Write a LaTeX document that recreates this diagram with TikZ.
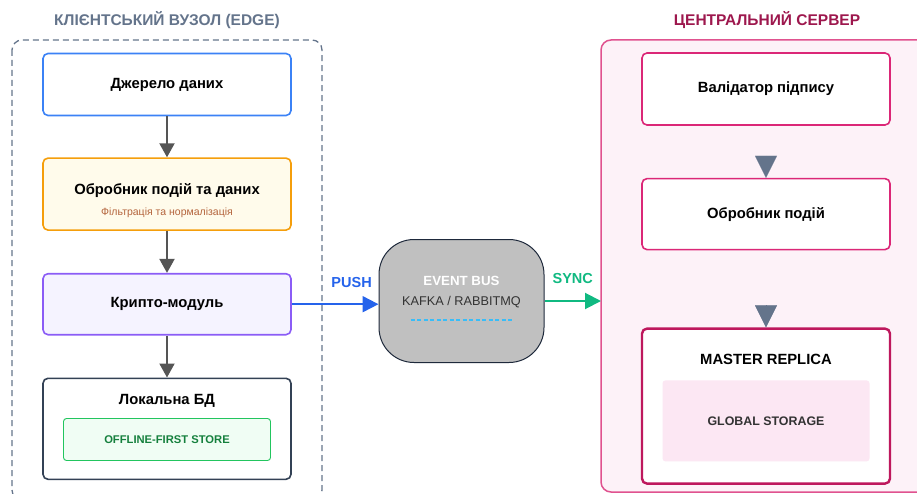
\documentclass[tikz,border=0pt]{standalone}
\usepackage{fontspec}
\setmainfont{Liberation Sans}
\usetikzlibrary{positioning, arrows.meta}
\definecolor{slate}{HTML}{64748B}
\definecolor{darkslate}{HTML}{334155}
\definecolor{flowgray}{HTML}{555555}
\definecolor{srcblue}{HTML}{3B82F6}
\definecolor{pushblue}{HTML}{2563EB}
\definecolor{procamber}{HTML}{F59E0B}
\definecolor{procfill}{HTML}{FFFBEB}
\definecolor{procnote}{HTML}{B4643C}
\definecolor{cryptoviolet}{HTML}{8B5CF6}
\definecolor{cryptofill}{HTML}{F5F3FF}
\definecolor{storegreen}{HTML}{22C55E}
\definecolor{storefill}{HTML}{F0FDF4}
\definecolor{storetext}{HTML}{15803D}
\definecolor{syncgreen}{HTML}{10B981}
\definecolor{busgray}{HTML}{C0C0C0}
\definecolor{busline}{HTML}{1E293B}
\definecolor{busdash}{HTML}{38BDF8}
\definecolor{srvtitle}{HTML}{9D174D}
\definecolor{srvpink}{HTML}{DB2777}
\definecolor{srvframe}{HTML}{E0528F}
\definecolor{srvfill}{HTML}{FDF2F8}
\definecolor{masterred}{HTML}{BE185D}
\definecolor{globalfill}{HTML}{FCE7F3}

\begin{document}
\begin{tikzpicture}[x=1pt, y=-1pt,
    every node/.style={inner sep=0pt},
    zonetitle/.style={font=\fontsize{15.5}{18}\selectfont\bfseries},
    box/.style={draw, fill=white, rounded corners=5pt, line width=1.6pt,
      minimum width=248pt, font=\fontsize{14.8}{17}\selectfont\bfseries},
    boxtext/.style={font=\fontsize{14.8}{17}\selectfont\bfseries},
    flow/.style={draw=flowgray, line width=2pt, -{Triangle[width=15pt,length=14pt]}},
    tri/.style={draw=slate, line width=0.1pt, shorten <=30pt,
      -{Triangle[width=22pt,length=22pt]}},
    link/.style={line width=2pt, -{Triangle[width=16pt,length=16pt]}},
    linklabel/.style={font=\fontsize{14.5}{17}\selectfont\bfseries}]
      \useasboundingbox (0,0) rectangle (917,494);
      \clip (0,0) rectangle (917,494);

      \draw[slate, line width=1.3pt, dash pattern=on 6pt off 4pt, rounded corners=10pt]
        (12,40) rectangle (322,500);
      \node[zonetitle, text=slate] (edgetitle) at (167,20) {КЛІЄНТСЬКИЙ ВУЗОЛ (EDGE)};

      \draw[srvframe, fill=srvfill, line width=1.5pt, rounded corners=10pt]
        (601,40) rectangle (940,492);
      \node[zonetitle, text=srvtitle] (srvtitle) at (767,20) {ЦЕНТРАЛЬНИЙ СЕРВЕР};

      \node[box, draw=srcblue, minimum height=62pt] (source) at (167,84.5) {Джерело даних};
      \node[box, draw=procamber, fill=procfill, minimum height=72pt, below=41pt of source] (proc) {};
      \node[boxtext] (proctitle) at ([yshift=-33pt]proc.north) {Обробник подій та даних};
      \node[font=\fontsize{10.5}{12}\selectfont, text=procnote] (procnote) at ([yshift=-55pt]proc.north)
        {Фільтрація та нормалізація};
      \node[box, draw=cryptoviolet, fill=cryptofill, minimum height=61pt, below=42pt of proc] (crypto) {Крипто-модуль};
      \node[box, draw=darkslate, minimum height=101pt, below=42pt of crypto] (localdb) {};
      \node[boxtext] (dbtitle) at ([yshift=-23pt]localdb.north) {Локальна БД};
      \node[draw=storegreen, fill=storefill, line width=0.9pt, rounded corners=3pt,
        minimum width=207pt, minimum height=42pt, text=storetext,
        font=\fontsize{11.2}{13}\selectfont\bfseries] (store) at ([yshift=-62pt]localdb.north) {OFFLINE-FIRST STORE};

      \draw[flow] (source) -- (proc);
      \draw[flow] (proc) -- (crypto);
      \draw[flow] (crypto) -- (localdb);

      \node[draw=busline, fill=busgray, line width=1pt, rounded corners=35pt,
        minimum width=165pt, minimum height=123pt] (bus) at (461.5,301) {};
      \node[font=\fontsize{13.3}{16}\selectfont\bfseries, text=white] (bustitle) at ([yshift=20pt]bus.center) {EVENT BUS};
      \node[font=\fontsize{12.7}{15}\selectfont, text=black!80] (busname) at ([yshift=-1pt]bus.center) {KAFKA / RABBITMQ};
      \draw[busdash, line width=1.5pt, dash pattern=on 4pt off 2.5pt]
        ([xshift=-51pt, yshift=-19pt]bus.center) -- ([xshift=51pt, yshift=-19pt]bus.center);

      \node[box, draw=srvpink, minimum height=72pt] (validator) at (766,89) {Валідатор підпису};
      \node[box, draw=srvpink, minimum height=71pt, below=52pt of validator] (handler) {Обробник подій};
      \node[box, draw=masterred, line width=2.4pt, minimum height=155pt, below=77pt of handler] (master) {};
      \node[boxtext] (mastertitle) at ([yshift=-32pt]master.north) {MASTER REPLICA};
      \node[fill=globalfill, rounded corners=3pt, minimum width=207pt, minimum height=81pt,
        text=black!80, font=\fontsize{12.4}{15}\selectfont\bfseries] (storage) at ([yshift=-93.5pt]master.north) {GLOBAL STORAGE};

      \draw[tri] (validator) -- (handler);
      \draw[tri, shorten <=55pt] (handler) -- (master);

      \coordinate (srvedge) at (601,301);
      \draw[link, pushblue] (crypto.east) -- (crypto.east -| bus.west)
        node[pos=0.69, above=16pt, linklabel, text=pushblue] (pushlabel) {PUSH};
      \draw[link, syncgreen] (bus.east) -- (srvedge)
        node[midway, above=16pt, linklabel, text=syncgreen] (synclabel) {SYNC};
\end{tikzpicture}
\end{document}
